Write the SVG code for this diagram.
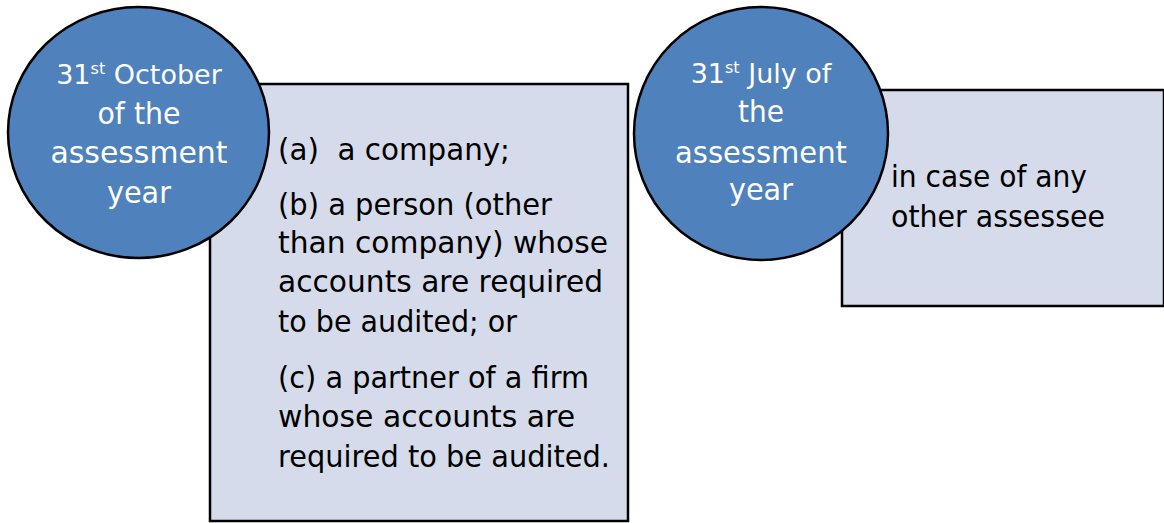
<svg xmlns="http://www.w3.org/2000/svg" width="1164" height="523" viewBox="0 0 1164 523">
<style>
.box{fill:#D5DBEA;stroke:#000;stroke-width:2.5}
.circ{fill:#4F81BD;stroke:#000;stroke-width:2.5}
text{font-family:"DejaVu Sans","Liberation Sans",sans-serif;font-size:30px}
.w{fill:#fff;text-anchor:middle}
.b{fill:#000}
.f{font-size:27px}
.sup{font-size:16px}
</style>
<rect width="1164" height="523" fill="#fff"/>
<g id="box1">
<rect class="box" x="210" y="84" width="418" height="437"/>
<text class="b" x="278" y="160" textLength="232" lengthAdjust="spacingAndGlyphs" xml:space="preserve">(a)  a company;</text>
<text class="b" x="278" y="215" textLength="274" lengthAdjust="spacingAndGlyphs">(b) a person (other</text>
<text class="b" x="278" y="253" textLength="330" lengthAdjust="spacingAndGlyphs">than company) whose</text>
<text class="b" x="278" y="292" textLength="325" lengthAdjust="spacingAndGlyphs">accounts are required</text>
<text class="b" x="278" y="332" textLength="239" lengthAdjust="spacingAndGlyphs">to be audited; or</text>
<text class="b" x="278" y="388" textLength="311" lengthAdjust="spacingAndGlyphs">(c) a partner of a firm</text>
<text class="b" x="278" y="427" textLength="297" lengthAdjust="spacingAndGlyphs">whose accounts are</text>
<text class="b" x="278" y="467" textLength="332" lengthAdjust="spacingAndGlyphs">required to be audited.</text>
</g>
<g id="circle1">
<ellipse class="circ" cx="138.5" cy="132.5" rx="130.5" ry="125.5"/>
<text class="w f" x="139" y="84">31<tspan class="sup" dy="-10">st</tspan><tspan dy="10"> October</tspan></text>
<text class="w" x="139" y="124" textLength="83" lengthAdjust="spacingAndGlyphs">of the</text>
<text class="w" x="139" y="163" textLength="177" lengthAdjust="spacingAndGlyphs">assessment</text>
<text class="w" x="139" y="203" textLength="64" lengthAdjust="spacingAndGlyphs">year</text>
</g>
<g id="box2">
<rect class="box" x="842" y="90" width="322" height="216"/>
<text class="b" x="891" y="187" textLength="196" lengthAdjust="spacingAndGlyphs">in case of any</text>
<text class="b" x="891" y="227" textLength="214" lengthAdjust="spacingAndGlyphs">other assessee</text>
</g>
<g id="circle2">
<ellipse class="circ" cx="761" cy="133.5" rx="127" ry="126.5"/>
<text class="w f" x="761" y="83">31<tspan class="sup" dy="-10">st</tspan><tspan dy="10"> July of</tspan></text>
<text class="w" x="761" y="122" textLength="46" lengthAdjust="spacingAndGlyphs">the</text>
<text class="w" x="761" y="163" textLength="172" lengthAdjust="spacingAndGlyphs">assessment</text>
<text class="w" x="761" y="200" textLength="64" lengthAdjust="spacingAndGlyphs">year</text>
</g>
<g id="connectors"/>
</svg>
